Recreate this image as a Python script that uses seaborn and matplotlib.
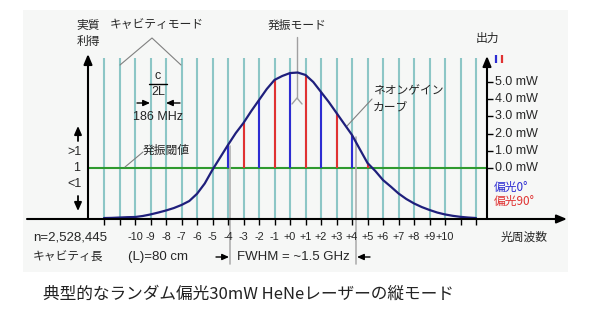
import numpy as np
import pandas as pd
import matplotlib
matplotlib.use("Agg")
import matplotlib.pyplot as plt
import seaborn as sns
from matplotlib.patches import Rectangle

# ---------------- data ----------------
cavity_modes = list(range(-12, 13))                     # mode numbers relative to line centre
mode_labels = [f"{n}" if n < 0 else f"+{n}" for n in range(-10, 11)]
label_modes = list(range(-10, 11))

curve_freq = list(np.arange(-12, 12.5, 0.5))             # sample positions (mode numbers)
curve_gain = [-2.91, -2.90, -2.88, -2.86, -2.85, -2.79, -2.70, -2.59, -2.47, -2.33,
              -2.15, -1.92, -1.50, -0.90, -0.10, 0.62, 1.34, 2.03, 2.62, 3.31,
              3.95, 4.59, 5.12, 5.35, 5.52, 5.55, 5.41, 5.00, 4.42, 3.84,
              3.20, 2.56, 1.92, 1.10, 0.29, -0.17, -0.70, -1.08, -1.48, -1.80,
              -2.06, -2.27, -2.44, -2.59, -2.70, -2.78, -2.84, -2.88, -2.91]

lasing_modes = [-4, -3, -2, -1, 0, 1, 2, 3, 4, 5]
lasing_power = [1.34, 2.62, 3.95, 5.12, 5.52, 5.41, 4.42, 3.20, 1.92, 0.29]   # mW
polarization = [0, 90, 0, 90, 0, 90, 0, 90, 0, 90]

power_ticks = [0, 1, 2, 3, 4, 5]
power_labels = [f"{v:.1f} mW" for v in power_ticks]

# ---------------- style ----------------
sns.set_style("white")
plt.rcParams['font.family'] = ['Liberation Sans', 'Noto Sans CJK JP', 'DejaVu Sans']
JP = ['Noto Sans CJK JP', 'Liberation Sans']
LAT = ['Liberation Sans', 'Noto Sans CJK JP']

TEAL = '#8cc6c6'
NAVY = '#1f1f7c'
BLUE = '#2c2cd2'
RED = '#e03232'
GREEN = '#2f9a2f'
GRAY = '#a0a0a0'

fig = plt.figure(figsize=(6, 3.24), dpi=100)
ax = fig.add_axes([0, 0, 1, 1])

# pixel layout helpers (layout only)
def X(px): return (px - 290) / 15.5
def Y(py): return (168 - py) / 17.2
def P(px, py): return (X(px), Y(py))

ax.set_xlim(X(0), X(600))
ax.set_ylim(Y(324), Y(0))
ax.axis('off')

ax.add_patch(Rectangle(P(23, 272), X(568) - X(23), Y(10) - Y(272),
                       facecolor='#f6f7f6', edgecolor='none', zorder=0))

base = Y(219)
# cavity modes
ax.vlines(cavity_modes, base, Y(58), colors=TEAL, lw=1.5, zorder=1)
# x ticks
ax.vlines(cavity_modes, Y(219), Y(225), colors='black', lw=1, zorder=3)
# threshold
ax.hlines(0, X(88), X(487), colors=GREEN, lw=1.5, zorder=2)
# lasing modes
cols = [BLUE if p == 0 else RED for p in polarization]
ax.vlines(lasing_modes, 0, lasing_power, colors=cols, lw=1.5, zorder=3)
# gain curve
df = pd.DataFrame({'freq': curve_freq, 'gain': curve_gain})
sns.lineplot(data=df, x='freq', y='gain', ax=ax, color=NAVY, lw=1.6,
             sort=False, estimator=None, zorder=4)
ax.set_xlim(X(0), X(600)); ax.set_ylim(Y(324), Y(0)); ax.axis('off')

def arrow(p0, p1, lw=1.5, hl=0.6, hw=0.25, color='black'):
    ax.annotate('', xy=P(*p1), xytext=P(*p0),
                arrowprops=dict(arrowstyle=f'-|>,head_length={hl},head_width={hw}',
                                lw=lw, color=color, shrinkA=0, shrinkB=0), zorder=5)

# axes
arrow((27, 219), (567, 219))
arrow((88, 219), (88, 54))
arrow((487, 219), (487, 56))
# right ticks/labels
ax.hlines(power_ticks, X(487), X(493), colors='black', lw=1, zorder=5)
for v, lab in zip(power_ticks, power_labels):
    ax.text(X(495), v, lab, ha='left', va='center', fontsize=9, family=LAT)
# legend ticks
ax.vlines([X(496)], Y(63), Y(55), colors=BLUE, lw=1.6)
ax.vlines([X(502)], Y(63), Y(55), colors=RED, lw=1.6)
ax.text(*P(494, 187), '偏光0°', color=BLUE, fontsize=8.5, ha='left', va='center', family=JP)
ax.text(*P(494, 201), '偏光90°', color=RED, fontsize=8.5, ha='left', va='center', family=JP)

# left gain notation
ax.text(*P(88, 25), '実質', ha='center', va='center', fontsize=8.5, family=JP)
ax.text(*P(88, 41), '利得', ha='center', va='center', fontsize=8.5, family=JP)
ax.text(*P(75, 152), '>1', ha='center', va='center', fontsize=9, family=LAT)
ax.text(*P(77, 168), '1', ha='center', va='center', fontsize=9, family=LAT)
ax.text(*P(75, 184), '<1', ha='center', va='center', fontsize=9, family=LAT)
arrow((78, 141), (78, 126), lw=1.3, hl=0.5, hw=0.22)
arrow((78, 196), (78, 211), lw=1.3, hl=0.5, hw=0.22)

# cavity mode annotation
ax.text(*P(110, 25), 'キャビティモード', ha='left', va='center', fontsize=8.5, family=JP)
ax.plot([X(120), X(152), X(181)], [Y(65), Y(38), Y(65)], color='#808080', lw=0.8)
ax.text(*P(158, 76), 'c', ha='center', va='center', fontsize=9, family=LAT)
ax.plot([X(149), X(167)], [Y(84), Y(84)], color='black', lw=1)
ax.text(*P(158, 92), '2L', ha='center', va='center', fontsize=9, family=LAT)
arrow((137, 103), (150, 103), lw=1, hl=0.4, hw=0.18)
arrow((180, 103), (166, 103), lw=1, hl=0.4, hw=0.18)
ax.text(*P(158, 117), '186 MHz', ha='center', va='center', fontsize=9, family=LAT)

# threshold label
ax.plot([X(125), X(143)], [Y(167), Y(152)], color='#808080', lw=0.8)
ax.text(*P(143, 150), '発振閾値', ha='left', va='center', fontsize=8.5, family=JP)

# lasing modes label
ax.text(*P(297, 25), '発振モード', ha='center', va='center', fontsize=8.5, family=JP)
ax.plot([X(297), X(297)], [Y(37), Y(98)], color=GRAY, lw=1)
ax.plot([X(292), X(297), X(302)], [Y(104), Y(98), Y(104)], color=GRAY, lw=1)

# neon gain curve label
ax.plot([X(347), X(372)], [Y(126), Y(99)], color='#808080', lw=0.8)
ax.text(*P(373, 91), 'ネオンゲイン', ha='left', va='center', fontsize=8.5, family=JP)
ax.text(*P(373, 107), 'カーブ', ha='left', va='center', fontsize=8.5, family=JP)

ax.text(*P(487, 38), '出力', ha='center', va='center', fontsize=8.5, family=JP)

# x labels
for n, lab in zip(label_modes, mode_labels):
    ax.text(n, Y(237), lab, ha='center', va='center', fontsize=7.8, family=LAT)
ax.text(*P(33, 237), 'n=2,528,445', ha='left', va='center', fontsize=9.5, family=LAT)
ax.text(*P(524, 237), '光周波数', ha='center', va='center', fontsize=8.5, family=JP)
ax.text(*P(33, 257), 'キャビティ長', ha='left', va='center', fontsize=8.5, family=JP)
ax.text(*P(128, 257), '(L)=80 cm', ha='left', va='center', fontsize=9.5, family=LAT)

# FWHM
ax.plot([X(229.5), X(229.5)], [Y(146), Y(264)], color='#b0b0b0', lw=1.2, zorder=2)
ax.plot([X(356), X(356)], [Y(137), Y(264)], color='#b0b0b0', lw=1.2, zorder=2)
arrow((216, 257), (229, 257), lw=1, hl=0.4, hw=0.18)
arrow((370, 257), (357, 257), lw=1, hl=0.4, hw=0.18)
ax.text(*P(293, 257), 'FWHM = ~1.5 GHz', ha='center', va='center', fontsize=9.5, family=LAT)

# title
ax.text(*P(248, 294), '典型的なランダム偏光30mW HeNeレーザーの縦モード',
        ha='center', va='center', fontsize=12, color='#222222', family=JP)

fig.savefig('out.png', dpi=100)
